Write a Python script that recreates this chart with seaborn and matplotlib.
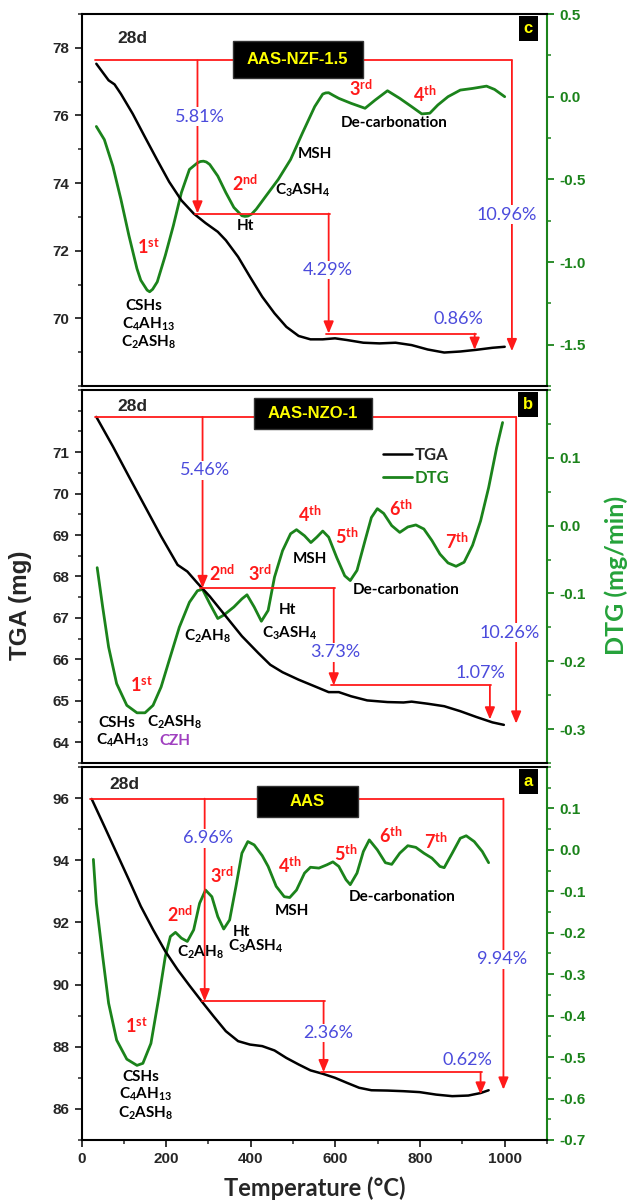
import pandas as pd
import seaborn as sns
import matplotlib.pyplot as plt
from matplotlib.ticker import FixedLocator, MultipleLocator

# ---------------- data ----------------
# panel c : AAS-NZF-1.5
tga_c_t = [35, 64, 78, 93, 121, 150, 179, 207, 236, 265, 293, 322, 341, 370, 398, 427, 456,
           484, 513, 541, 570, 599, 627, 666, 704, 742, 780, 818, 857, 895, 933, 971, 1000]
tga_c = [77.53, 77.04, 76.92, 76.64, 76.05, 75.36, 74.68, 74.04, 73.49, 73.10, 72.82, 72.56,
         72.31, 71.82, 71.23, 70.64, 70.15, 69.75, 69.48, 69.38, 69.38, 69.41, 69.36, 69.28,
         69.26, 69.28, 69.21, 69.08, 68.99, 69.02, 69.07, 69.13, 69.16]
dtg_c_t = [35, 54, 74, 93, 112, 131, 140, 150, 155, 161, 168, 179, 198, 217, 236, 255, 274, 281,
           288, 295, 303, 322, 341, 360, 379, 386, 393, 402, 413, 436, 465, 494, 522, 551, 570,
           577, 584, 595, 608, 637, 670, 694, 723, 752, 780, 804, 823, 842, 866, 895, 924, 957,
           976, 1000]
dtg_c = [-0.18, -0.26, -0.42, -0.62, -0.84, -1.04, -1.11, -1.15, -1.17, -1.18, -1.165, -1.12,
         -0.96, -0.78, -0.58, -0.44, -0.40, -0.392, -0.39, -0.395, -0.41, -0.48, -0.58, -0.67,
         -0.72, -0.724, -0.722, -0.71, -0.68, -0.60, -0.50, -0.38, -0.22, -0.06, 0.016, 0.023,
         0.024, 0.008, -0.01, -0.04, -0.07, -0.02, 0.036, -0.01, -0.06, -0.104, -0.10, -0.05,
         0.0, 0.04, 0.05, 0.064, 0.044, 0.0]

# panel b : AAS-NZO-1
tga_b_t = [35, 74, 112, 150, 188, 227, 250, 274, 303, 341, 379, 418, 446, 475, 513, 551, 584,
           608, 637, 675, 723, 761, 780, 818, 857, 895, 933, 971, 998]
tga_b = [71.85, 71.14, 70.41, 69.69, 68.97, 68.28, 68.12, 67.84, 67.52, 67.04, 66.56, 66.15,
         65.87, 65.69, 65.51, 65.35, 65.21, 65.21, 65.11, 65.01, 64.97, 64.96, 64.98, 64.93,
         64.87, 64.75, 64.61, 64.48, 64.42]
dtg_b_t = [37, 50, 64, 83, 107, 131, 150, 169, 188, 207, 231, 255, 274, 286, 303, 322, 336,
           360, 379, 391, 408, 425, 441, 456, 475, 494, 508, 527, 542, 556, 570, 584, 603, 622,
           635, 651, 670, 685, 699, 714, 733, 752, 771, 790, 809, 828, 847, 866, 885, 904, 924,
           943, 962, 981, 995]
dtg_b = [-0.062, -0.12, -0.179, -0.233, -0.265, -0.276, -0.276, -0.265, -0.238, -0.199, -0.150,
         -0.113, -0.096, -0.094, -0.115, -0.137, -0.132, -0.12, -0.108, -0.102, -0.12, -0.141,
         -0.125, -0.076, -0.037, -0.012, -0.006, -0.015, -0.025, -0.017, -0.008, -0.017, -0.047,
         -0.074, -0.081, -0.066, -0.022, 0.012, 0.025, 0.018, 0.0, -0.010, -0.002, 0.001, -0.005,
         -0.022, -0.042, -0.055, -0.060, -0.054, -0.029, 0.007, 0.056, 0.115, 0.152]

# panel a : AAS
tga_a_t = [24, 54, 83, 112, 140, 169, 198, 227, 255, 284, 312, 341, 370, 398, 427, 456, 484,
           513, 541, 570, 599, 627, 656, 685, 723, 761, 799, 838, 876, 914, 943, 962]
tga_a = [95.97, 95.09, 94.23, 93.37, 92.52, 91.77, 91.07, 90.48, 89.97, 89.46, 88.98, 88.50,
         88.18, 88.07, 88.02, 87.88, 87.64, 87.43, 87.24, 87.13, 87.00, 86.84, 86.68, 86.60,
         86.59, 86.57, 86.54, 86.46, 86.41, 86.43, 86.51, 86.60]
dtg_a_t = [28, 35, 50, 64, 83, 107, 131, 145, 164, 183, 198, 210, 222, 236, 250, 265, 279, 293,
           308, 322, 336, 350, 365, 379, 393, 408, 427, 441, 460, 479, 492, 508, 527, 541, 561,
           580, 594, 608, 625, 635, 651, 666, 680, 699, 718, 733, 752, 771, 790, 809, 828, 847,
           857, 876, 895, 909, 928, 947, 962]
dtg_a = [-0.023, -0.129, -0.257, -0.370, -0.459, -0.505, -0.520, -0.515, -0.467, -0.354, -0.257,
         -0.209, -0.199, -0.213, -0.221, -0.193, -0.129, -0.097, -0.113, -0.161, -0.191, -0.169,
         -0.088, -0.008, 0.020, 0.012, -0.014, -0.040, -0.088, -0.113, -0.115, -0.097, -0.056,
         -0.042, -0.044, -0.036, -0.029, -0.040, -0.072, -0.084, -0.056, -0.004, 0.024, 0.0,
         -0.031, -0.035, -0.008, 0.010, 0.006, -0.008, -0.020, -0.040, -0.043, -0.008, 0.028,
         0.034, 0.020, -0.004, -0.031]

# mass-loss steps (temperature of each arrow, mass levels) and their labels
step_c_t = [274, 584, 929]
step_c_m = [77.63, 73.10, 69.55, 69.07]
span_c = [32, 1017, 69.03]
loss_c = ['5.81%', '4.29%', '0.86%', '10.96%']

step_b_t = [286, 596, 965]
step_b_m = [71.85, 67.72, 65.37, 64.55]
span_b = [32, 1027, 64.45]
loss_b = ['5.46%', '3.73%', '1.07%', '10.26%']

step_a_t = [291, 572, 943]
step_a_m = [95.98, 89.46, 87.18, 86.46]
span_a = [21, 997, 86.62]
loss_a = ['6.96%', '2.36%', '0.62%', '9.94%']

samples = ['AAS-NZF-1.5', 'AAS-NZO-1', 'AAS']
letters = ['c', 'b', 'a']

# ---------------- style ----------------
GREEN = '#1b831b'
RED = '#ff1a1a'
BLUE = '#4b4bdc'
sns.set_style('ticks')
plt.rcParams['font.family'] = ['Liberation Sans', 'DejaVu Sans']
plt.rcParams['mathtext.fontset'] = 'custom'
plt.rcParams['mathtext.rm'] = 'Lato'
plt.rcParams['mathtext.it'] = 'Lato:italic'
plt.rcParams['mathtext.bf'] = 'Lato:bold'

lab = dict(family='Lato', weight='bold', fontsize=11, ha='center', va='center', color='black')
ordf = dict(family='Lato', weight='bold', fontsize=13, ha='center', va='center', color=RED)
pctf = dict(family='Lato', fontsize=13, ha='center', va='center', color=BLUE,
            bbox=dict(facecolor='white', edgecolor='none', pad=1))

fig = plt.figure(figsize=(6.3, 12.01), dpi=100)
rects = [[0.1294, 0.6786, 0.7389, 0.3097],
         [0.1294, 0.3647, 0.7389, 0.3106],
         [0.1294, 0.0508, 0.7389, 0.3106]]


def make_panel(i, tt, tg, dt, dg, ylim, yt, ymin, y2lim, y2t, y2min, steps_t, steps_m, span):
    ax = fig.add_axes(rects[i])
    ax2 = ax.twinx()
    ax.set_zorder(ax2.get_zorder() + 1)
    ax.patch.set_visible(False)
    sns.lineplot(x=tt, y=tg, ax=ax, color='black', linewidth=1.8)
    sns.lineplot(x=dt, y=dg, ax=ax2, color=GREEN, linewidth=2.0)
    ax.set_xlim(0, 1100)
    ax.set_ylim(*ylim)
    ax2.set_ylim(*y2lim)
    ax.yaxis.set_major_locator(FixedLocator(yt))
    ax.yaxis.set_minor_locator(MultipleLocator(ymin))
    ax2.yaxis.set_major_locator(FixedLocator(y2t))
    ax2.yaxis.set_minor_locator(MultipleLocator(y2min))
    ax.set_yticklabels([f'{v:g}' for v in yt], fontweight='bold', fontsize=11)
    ax2.set_yticklabels([f'{v:.1f}' for v in y2t], fontweight='bold', fontsize=11, color=GREEN)
    for s in ['left', 'top', 'bottom']:
        ax.spines[s].set_linewidth(1.5)
        ax.spines[s].set_color('black')
    ax.spines['right'].set_visible(False)
    ax2.spines['right'].set_linewidth(1.5)
    ax2.spines['right'].set_color(GREEN)
    for s in ['left', 'top', 'bottom']:
        ax2.spines[s].set_visible(False)
    ax.tick_params(axis='y', which='major', length=5, width=1.3, pad=4)
    ax.tick_params(axis='y', which='minor', length=3, width=1.1)
    ax2.tick_params(axis='y', which='major', length=5, width=1.3, pad=4, color=GREEN)
    ax2.tick_params(axis='y', which='minor', length=3, width=1.1, color=GREEN)
    ax2.tick_params(axis='x', which='both', bottom=False, labelbottom=False)
    ax.set_xlabel('')
    ax.set_ylabel('')
    ax2.set_ylabel('')

    # red step arrows
    arrow = dict(arrowstyle='-|>,head_length=0.6,head_width=0.25', color=RED, lw=1.3,
                 shrinkA=0, shrinkB=0, mutation_scale=12)
    ax.plot([span[0], span[1]], [steps_m[0], steps_m[0]], color=RED, lw=1.3)
    for k, t in enumerate(steps_t):
        ax.annotate('', xy=(t, steps_m[k + 1]), xytext=(t, steps_m[k]), arrowprops=arrow)
        if k < 2:
            ax.plot([t - 7, steps_t[k + 1] + 3], [steps_m[k + 1], steps_m[k + 1]], color=RED, lw=1.3)
    ax.annotate('', xy=(span[1], span[2]), xytext=(span[1], steps_m[0]), arrowprops=arrow)

    ax.text(0.96, 0.962, letters[i], transform=ax.transAxes, ha='center', va='center',
            fontsize=12, fontweight='bold', color='#ffff00',
            bbox=dict(boxstyle='square,pad=0.3', facecolor='black', edgecolor='none'))
    return ax, ax2


def box(ax, x, y, s, padx, aspect):
    # wide black label box: horizontal pad padx (em), vertical pad padx*aspect
    ax.text(x, y, s, ha='center', va='center', fontsize=12, fontweight='bold', color='#ffff00',
            bbox=dict(boxstyle=f'square,pad={padx}', mutation_aspect=aspect,
                      facecolor='black', edgecolor='#333333'))


# ---------- panel c ----------
ax, ax2 = make_panel(0, tga_c_t, tga_c, dtg_c_t, dtg_c, (68, 79), [70, 72, 74, 76, 78], 1,
                     (-1.75, 0.5), [-1.5, -1.0, -0.5, 0.0, 0.5], 0.25,
                     step_c_t, step_c_m, span_c)
ax.tick_params(axis='x', which='both', bottom=False, labelbottom=False)
ax.text(121, 78.27, '28d', fontsize=12.5, fontweight='bold', ha='center', va='center')
box(ax, 511, 77.65, samples[0], 0.85, 0.77)
for s, x, y in zip(loss_c, [279, 582, 890, 1005], [75.97, 71.43, 69.97, 73.07]):
    ax.text(x, y, s, **pctf)
for s, x, y in zip([r'1$^{\mathbf{st}}$', r'2$^{\mathbf{nd}}$', r'3$^{\mathbf{rd}}$', r'4$^{\mathbf{th}}$'],
                   [157, 387, 659, 811], [72.1, 73.98, 76.81, 76.63]):
    ax.text(x, y, s, **ordf)
for s, x, y in zip(['CSHs', r'C$_{\mathbf{4}}$AH$_{\mathbf{13}}$', r'C$_{\mathbf{2}}$ASH$_{\mathbf{8}}$',
                    'Ht', r'C$_{\mathbf{3}}$ASH$_{\mathbf{4}}$', 'MSH', 'De-carbonation'],
                   [147, 158, 158, 387, 522, 551, 740],
                   [70.36, 69.83, 69.28, 72.72, 73.79, 74.85, 75.78]):
    ax.text(x, y, s, **lab)

# ---------- panel b ----------
ax, ax2 = make_panel(1, tga_b_t, tga_b, dtg_b_t, dtg_b, (63.5, 72.5), [64, 65, 66, 67, 68, 69, 70, 71], 0.5,
                     (-0.35, 0.2), [-0.3, -0.2, -0.1, 0.0, 0.1], 0.05,
                     step_b_t, step_b_m, span_b)
ax.tick_params(axis='x', which='both', bottom=False, labelbottom=False)
ax.text(121, 72.10, '28d', fontsize=12.5, fontweight='bold', ha='center', va='center')
box(ax, 547, 71.93, samples[1], 0.8, 0.57)
for s, x, y in zip(loss_b, [293, 599, 943, 1011], [70.56, 66.17, 65.67, 66.64]):
    ax.text(x, y, s, **pctf)
for s, x, y in zip([r'1$^{\mathbf{st}}$', r'2$^{\mathbf{nd}}$', r'3$^{\mathbf{rd}}$', r'4$^{\mathbf{th}}$',
                    r'5$^{\mathbf{th}}$', r'6$^{\mathbf{th}}$', r'7$^{\mathbf{th}}$'],
                   [142, 331, 422, 540, 626, 754, 888],
                   [65.37, 68.08, 68.08, 69.49, 68.97, 69.63, 68.85]):
    ax.text(x, y, s, **ordf)
for s, x, y in zip(['CSHs', r'C$_{\mathbf{4}}$AH$_{\mathbf{13}}$', r'C$_{\mathbf{2}}$ASH$_{\mathbf{8}}$',
                    r'C$_{\mathbf{2}}$AH$_{\mathbf{8}}$', 'Ht', r'C$_{\mathbf{3}}$ASH$_{\mathbf{4}}$',
                    'MSH', 'De-carbonation'],
                   [83, 97, 220, 298, 486, 492, 540, 768],
                   [64.47, 64.04, 64.47, 66.56, 67.18, 66.64, 68.41, 67.67]):
    ax.text(x, y, s, **lab)
ax.text(220, 64.04, 'CZH', family='Lato', weight='bold', fontsize=11, ha='center', va='center',
        color='#a040c0')
ax.legend(handles=[ax.lines[0], ax2.lines[0]], labels=['TGA', 'DTG'], loc='upper left',
          bbox_to_anchor=(0.648, 0.848), frameon=False, borderpad=0, borderaxespad=0,
          handlelength=1.75, handletextpad=0.15, labelspacing=0.45,
          prop=dict(family='Lato', weight='bold', size=12))
leg = ax.get_legend()
leg.get_texts()[1].set_color(GREEN)

# ---------- panel a ----------
ax, ax2 = make_panel(2, tga_a_t, tga_a, dtg_a_t, dtg_a, (85, 97), [86, 88, 90, 92, 94, 96], 1,
                     (-0.7, 0.2), [-0.7, -0.6, -0.5, -0.4, -0.3, -0.2, -0.1, 0.0, 0.1], 0.05,
                     step_a_t, step_a_m, span_a)
ax.xaxis.set_major_locator(FixedLocator([0, 200, 400, 600, 800, 1000]))
ax.xaxis.set_minor_locator(MultipleLocator(100))
ax.set_xticklabels(['0', '200', '400', '600', '800', '1000'], fontweight='bold', fontsize=11)
ax.tick_params(axis='x', which='major', bottom=True, length=5, width=1.3, pad=4)
ax.tick_params(axis='x', which='minor', bottom=True, length=3, width=1.1)
ax.text(102, 96.43, '28d', fontsize=12.5, fontweight='bold', ha='center', va='center')
box(ax, 534, 95.9, samples[2], 2.0, 0.24)
for s, x, y in zip(loss_a, [298, 582, 911, 993], [94.71, 88.44, 87.56, 90.82]):
    ax.text(x, y, s, **pctf)
for s, x, y in zip([r'1$^{\mathbf{st}}$', r'2$^{\mathbf{nd}}$', r'3$^{\mathbf{rd}}$', r'4$^{\mathbf{th}}$',
                    r'5$^{\mathbf{th}}$', r'6$^{\mathbf{th}}$', r'7$^{\mathbf{th}}$'],
                   [129, 233, 331, 492, 625, 731, 838],
                   [88.66, 92.25, 93.52, 93.84, 94.21, 94.80, 94.59]):
    ax.text(x, y, s, **ordf)
for s, x, y in zip(['CSHs', r'C$_{\mathbf{4}}$AH$_{\mathbf{13}}$', r'C$_{\mathbf{2}}$ASH$_{\mathbf{8}}$',
                    r'C$_{\mathbf{2}}$AH$_{\mathbf{8}}$', 'Ht', r'C$_{\mathbf{3}}$ASH$_{\mathbf{4}}$',
                    'MSH', 'De-carbonation'],
                   [140, 152, 152, 282, 379, 411, 497, 758],
                   [87.03, 86.46, 85.87, 91.04, 91.69, 91.23, 92.36, 92.82]):
    ax.text(x, y, s, **lab)

# axis titles
fig.text(0.4995, 0.011, 'Temperature (°C)', family='Lato', weight='bold', fontsize=17,
         ha='center', va='center')
fig.text(0.033, 0.496, 'TGA (mg)', fontsize=17.5, fontweight='bold', rotation=90,
         ha='center', va='center')
fig.text(0.978, 0.521, 'DTG (mg/min)', family='Lato', weight='bold', fontsize=18, rotation=90,
         ha='center', va='center', color='#25a23a')

fig.savefig('out.png', dpi=100)
